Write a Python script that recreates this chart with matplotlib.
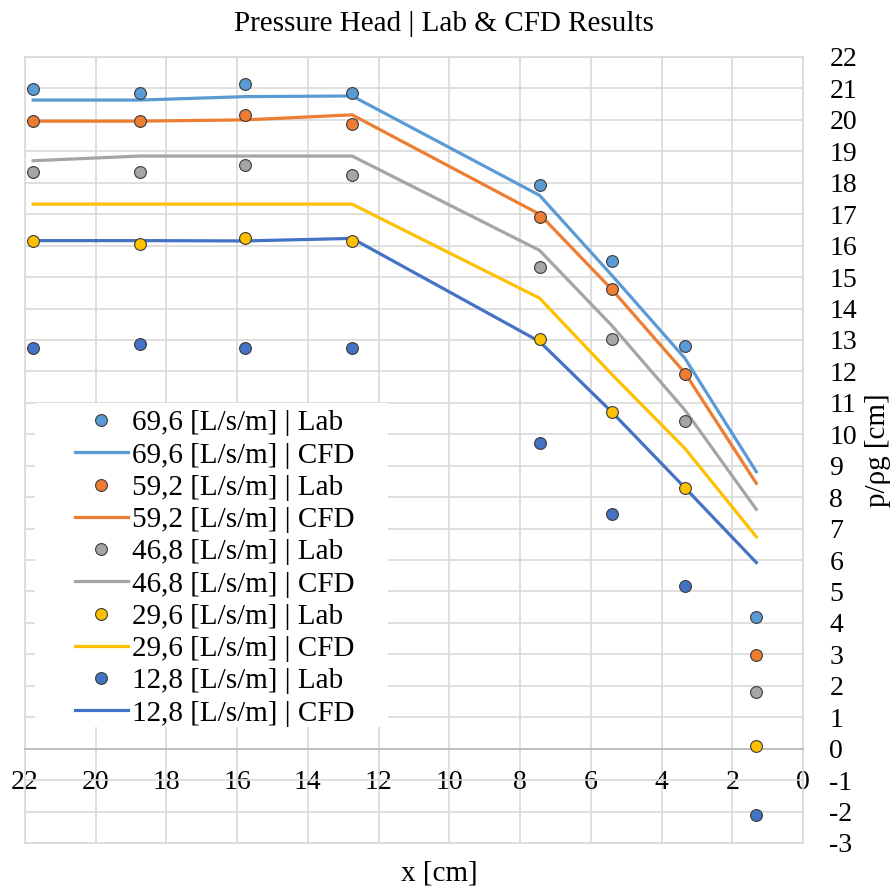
import matplotlib
matplotlib.use("Agg")
import matplotlib.pyplot as plt
from matplotlib.patches import Rectangle

plt.rcParams['font.family'] = ['Liberation Serif', 'DejaVu Serif']
plt.rcParams['axes.unicode_minus'] = False

# x positions [cm]
x_pos = [21.77, 18.75, 15.77, 12.75, 7.45, 5.40, 3.34, 1.32]

flows = ["69,6", "59,2", "46,8", "29,6", "12,8"]
colors = ['#5B9BD5', '#ED7D31', '#A5A5A5', '#FFC000', '#4472C4']

lab_696 = [20.98, 20.85, 21.13, 20.85, 17.93, 15.51, 12.82, 4.20]
lab_592 = [19.96, 19.96, 20.16, 19.87, 16.90, 14.61, 11.92, 2.98]
lab_468 = [18.35, 18.35, 18.57, 18.25, 15.31, 13.02, 10.42, 1.79]
lab_296 = [16.16, 16.04, 16.23, 16.16, 13.02, 10.70, 8.28, 0.09]
lab_128 = [12.74, 12.86, 12.74, 12.74, 9.71, 7.46, 5.19, -2.11]

cfd_696 = [20.63, 20.63, 20.74, 20.76, 17.60, 15.05, 12.42, 8.81]
cfd_592 = [19.96, 19.96, 20.00, 20.16, 17.00, 14.60, 11.95, 8.44]
cfd_468 = [18.70, 18.85, 18.85, 18.85, 15.85, 13.45, 10.77, 7.61]
cfd_296 = [17.32, 17.32, 17.32, 17.32, 14.33, 11.90, 9.55, 6.74]
cfd_128 = [16.16, 16.16, 16.15, 16.23, 12.95, 10.70, 8.30, 5.92]

lab = [lab_696, lab_592, lab_468, lab_296, lab_128]
cfd = [cfd_696, cfd_592, cfd_468, cfd_296, cfd_128]

W, H = 896, 890
fig = plt.figure(figsize=(W / 100, H / 100), dpi=100)
ax = fig.add_axes([25 / W, 1 - 843 / H, 778 / W, 786 / H])

grid_c = '#D9D9D9'
for i, f in enumerate(flows):
    ax.plot(x_pos, lab[i], 'o', color=colors[i], ms=8.5, mec='#3A3A3A', mew=0.8,
            zorder=4, label=f"{f} [L/s/m] | Lab")
    ax.plot(x_pos, cfd[i], '-', color=colors[i], lw=2.3, zorder=3,
            solid_joinstyle='miter', label=f"{f} [L/s/m] | CFD")

ax.set_xlim(22, 0)
ax.set_ylim(-3, 22)
ax.set_xticks(range(22, -1, -2))
ax.set_yticks(range(-3, 23))
ax.grid(True, color=grid_c, lw=1.2)
ax.set_axisbelow(True)

for s in ['top', 'left', 'right']:
    ax.spines[s].set_color(grid_c)
    ax.spines[s].set_linewidth(1.2)
ax.spines['bottom'].set_position(('data', 0))
ax.spines['bottom'].set_color('#BFBFBF')
ax.spines['bottom'].set_linewidth(1.4)
ax.axhline(-3, color=grid_c, lw=1.2, clip_on=False, zorder=0.5)

ax.yaxis.tick_right()
ax.tick_params(axis='y', length=0, pad=19, labelsize=20)
ax.tick_params(axis='x', length=0, pad=15, labelsize=20)

ax.yaxis.set_label_position('right')
ax.set_ylabel("p/ρg [cm]", fontsize=21)
ax.yaxis.set_label_coords(1.0797, 0.5)
ax.set_xlabel("x [cm]", fontsize=21)
ax.xaxis.set_label_coords(0.533, -0.022)

fig.text(444 / W, 1 - 24 / H, "Pressure Head | Lab & CFD Results",
         ha='center', va='center', fontsize=21)

# white background behind legend
ax.add_patch(Rectangle((35 / W, 1 - 727 / H), 353 / W, 324 / H,
                       transform=fig.transFigure, fc='white', ec='none', zorder=1))

ax.legend(loc='upper left', bbox_to_anchor=(75 / W, 1 - 410 / H),
          bbox_transform=fig.transFigure, frameon=False, fontsize=21,
          borderpad=0, borderaxespad=0, handlelength=1.8, handletextpad=0.17,
          labelspacing=0.2)

fig.savefig("out.png", dpi=100)
